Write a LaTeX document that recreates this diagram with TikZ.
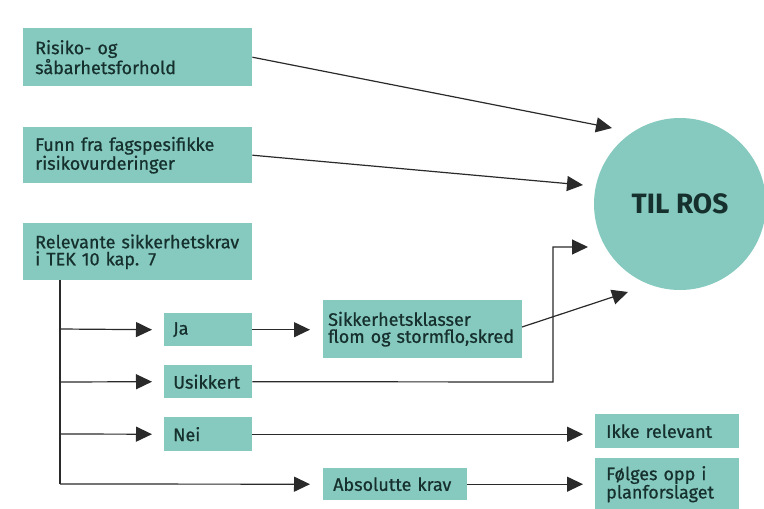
\documentclass[tikz,border=0pt]{standalone}
\usepackage{fontspec}
\setmainfont{Fira Sans}
\newfontfamily\boxfont{Fira Sans}[FakeBold=0.7]
\usetikzlibrary{arrows.meta}
\definecolor{boxfill}{HTML}{86CABF}
\definecolor{boxtext}{HTML}{16302E}
\definecolor{linecol}{HTML}{2A2A2A}
\begin{document}
\begin{tikzpicture}[x=1pt,y=-1pt,
  tbox/.style={fill=boxfill, text=boxtext, anchor=north west, inner ysep=0pt,
    align=left, font=\boxfont\fontsize{18}{17}\selectfont},
  conn/.style={draw=linecol, line width=1.2pt},
  arr/.style={conn, -{Triangle[length=16pt,width=15pt]}}
]
\useasboundingbox (0,0) rectangle (764,509);
% boxes
\node[tbox, minimum width=229pt, minimum height=58pt, inner xsep=12pt, text width=205pt] (b1) at (23,28) {Risiko- og\\såbarhetsforhold};
\node[tbox, minimum width=229pt, minimum height=56pt, inner xsep=12pt, text width=205pt] (b2) at (23,127) {Funn fra fagspesifikke\\risikovurderinger};
\node[tbox, minimum width=229pt, minimum height=57pt, inner xsep=12pt, text width=205pt] (b3) at (23,223) {\mbox{Relevante sikkerhetskrav}\\i TEK 10 kap. 7};
\node[tbox, minimum width=88pt, minimum height=33pt, inner xsep=9pt, text width=70pt] (ja) at (164,313) {Ja};
\node[tbox, minimum width=88pt, minimum height=33pt, inner xsep=9pt, text width=70pt] (us) at (164,365) {Usikkert};
\node[tbox, minimum width=88pt, minimum height=34pt, inner xsep=9pt, text width=70pt] (nei) at (164,417) {Nei};
\node[tbox, minimum width=199pt, minimum height=58pt, inner xsep=5pt, text width=189pt] (sk) at (323,300) {\mbox{Sikkerhetsklasser}\\\mbox{flom og stormflo,skred}};
\node[tbox, minimum width=144pt, minimum height=32pt, inner xsep=10pt, text width=124pt] (abs) at (323,468) {\mbox{Absolutte krav}};
\node[tbox, minimum width=144pt, minimum height=34pt, inner xsep=11pt, text width=122pt] (ikke) at (595,414) {\mbox{Ikke relevant}};
\node[tbox, minimum width=144pt, minimum height=52pt, inner xsep=11pt, text width=122pt] (folg) at (595,458) {\mbox{Følges opp i}\\\mbox{planforslaget}};
% circle
\node[circle, fill=boxfill, minimum size=172pt, inner sep=0pt, text=boxtext,
  font=\fontsize{28}{28}\selectfont\bfseries] (ros) at (680,204) {TIL ROS};
% coordinates
\coordinate (t1) at (612,128);
\coordinate (t2) at (583,185);
\coordinate (t3) at (588,247);
\coordinate (t4) at (628,292);
\coordinate (trTop) at (60,280);
\coordinate (trJa) at (60,329);
\coordinate (trUs) at (60,382);
\coordinate (trNei) at (60,434);
\coordinate (trAbs) at (60,484);
\coordinate (usCorner) at (553,382);
\coordinate (skOut) at (522,327);
% connectors
\draw[arr] (b1.east) -- (t1);
\draw[arr] (b2.east) -- (t2);
\draw[conn] (trTop) -- (trAbs);
\draw[arr] (trJa) -- ([xshift=-12pt]ja.west);
\draw[arr] (trUs) -- ([xshift=-12pt]us.west);
\draw[arr] (trNei) -- ([xshift=-12pt]nei.west);
\draw[arr] (trAbs) -- ([xshift=-13pt]abs.west);
\draw[arr] (ja.east) -- ([xshift=-13pt]sk.west |- ja.east);
\draw[arr] (us.east) -- (usCorner) -- (usCorner |- t3) -- (t3);
\draw[arr] (skOut) -- (t4);
\draw[arr] (nei.east) -- ([xshift=-12pt]ikke.west |- nei.east);
\draw[arr] (abs.east) -- ([xshift=-12pt]folg.west |- abs.east);
\end{tikzpicture}
\end{document}
